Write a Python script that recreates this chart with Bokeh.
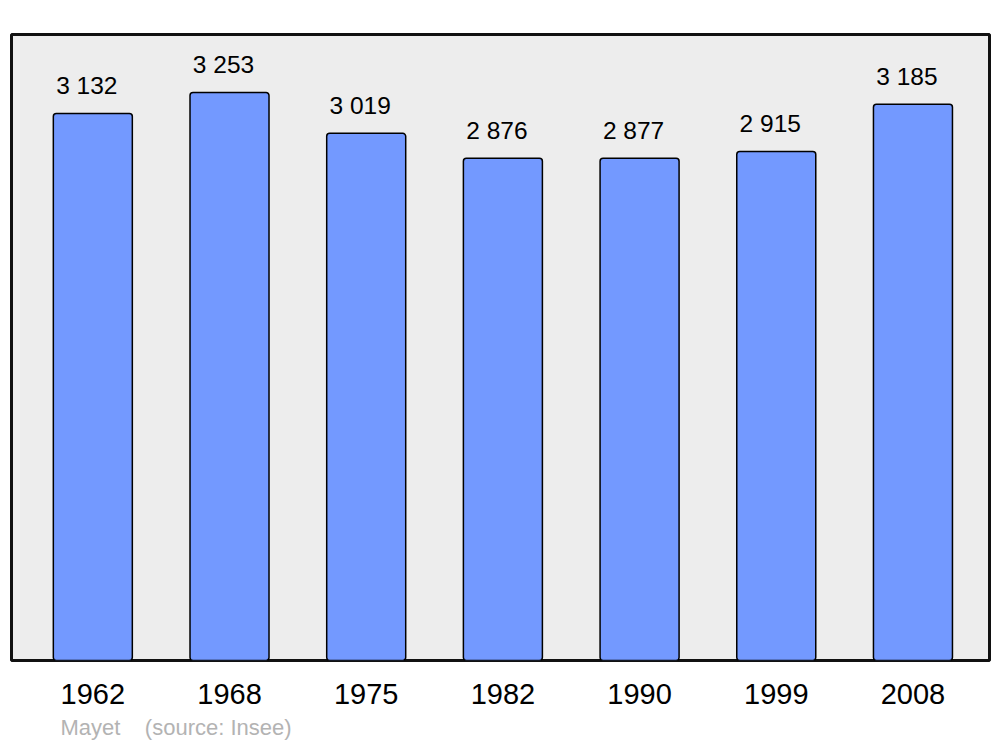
from bokeh.plotting import figure
from bokeh.models import Range1d, FixedTicker, ColumnDataSource, Title
from bokeh.core.properties import value
from bokeh.embed import file_html
from bokeh.resources import INLINE

years = ["1962", "1968", "1975", "1982", "1990", "1999", "2008"]
population = [3132, 3253, 3019, 2876, 2877, 2915, 3185]
labels = ["3 132", "3 253", "3 019", "2 876", "2 877", "2 915", "3 185"]
commune = "Mayet"
source_note = "(source: Insee)"

idx = list(range(len(years)))
src = ColumnDataSource(dict(x=idx, top=population, label=labels))

p = figure(width=1000, height=747, output_backend="svg", toolbar_location=None,
           x_range=Range1d(-0.595, 6.56), y_range=Range1d(0, 3585),
           min_border_left=11, min_border_right=11, min_border_top=34, min_border_bottom=87)
p.background_fill_color = "#ededed"
p.border_fill_color = "white"
p.outline_line_color = "#111111"
p.outline_line_width = 3
p.xgrid.visible = False
p.ygrid.visible = False
p.yaxis.visible = False

p.vbar(x="x", top="top", bottom=0, width=0.578, source=src,
       fill_color="#7399ff", line_color="black", line_width=1.5, border_radius=3)

p.text(x="x", y="top", text="label", source=src, x_offset=-6, y_offset=-28,
       text_align="center", text_baseline="alphabetic",
       text_font=value("Liberation Sans"), text_font_size="24.5px", text_color="black")

ax = p.xaxis[0]
ax.ticker = FixedTicker(ticks=idx)
ax.major_label_overrides = {i: y for i, y in zip(idx, years)}
ax.axis_line_color = None
ax.major_tick_line_color = None
ax.minor_tick_line_color = None
ax.major_tick_out = 0
ax.major_tick_in = 0
ax.major_label_standoff = 23
ax.major_label_text_font = "Liberation Sans"
ax.major_label_text_font_size = "29px"
ax.major_label_text_color = "black"

foot = Title(text=commune + "\u00a0\u00a0\u00a0\u00a0" + source_note, align="left",
             text_font="Liberation Sans", text_font_size="22px", text_font_style="normal",
             text_color="#b3b3b3", offset=49, standoff=12)
p.add_layout(foot, "below")

open("out.html", "w").write(file_html(p, INLINE))
